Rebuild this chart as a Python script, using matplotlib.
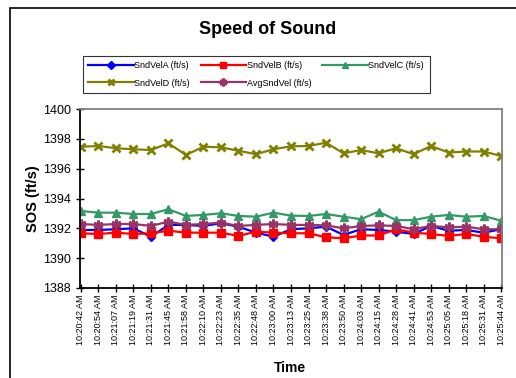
import matplotlib
matplotlib.use("Agg")
import matplotlib.pyplot as plt
from matplotlib.lines import Line2D

plt.rcParams["font.family"] = ["Liberation Sans", "DejaVu Sans"]

times = [
    "10:20:42 AM", "10:20:54 AM", "10:21:07 AM", "10:21:19 AM", "10:21:31 AM",
    "10:21:45 AM", "10:21:58 AM", "10:22:10 AM", "10:22:23 AM", "10:22:35 AM",
    "10:22:48 AM", "10:23:00 AM", "10:23:13 AM", "10:23:25 AM", "10:23:38 AM",
    "10:23:50 AM", "10:24:03 AM", "10:24:15 AM", "10:24:28 AM", "10:24:41 AM",
    "10:24:53 AM", "10:25:05 AM", "10:25:18 AM", "10:25:31 AM", "10:25:44 AM",
]

snd_a = [1391.89, 1391.89, 1391.94, 1392.00, 1391.44, 1392.23, 1392.23, 1392.16,
         1392.34, 1392.11, 1391.71, 1391.44, 1391.94, 1392.00, 1392.11, 1391.56,
         1391.94, 1391.89, 1391.78, 1391.62, 1392.16, 1391.84, 1391.89, 1391.71,
         1391.94]
snd_b = [1391.67, 1391.62, 1391.71, 1391.62, 1391.67, 1391.84, 1391.71, 1391.71,
         1391.71, 1391.49, 1391.78, 1391.71, 1391.67, 1391.67, 1391.40, 1391.33,
         1391.52, 1391.52, 1391.94, 1391.71, 1391.62, 1391.49, 1391.62, 1391.44,
         1391.33]
snd_c = [1393.16, 1393.05, 1393.05, 1392.96, 1392.96, 1393.28, 1392.83, 1392.90,
         1393.01, 1392.83, 1392.78, 1393.05, 1392.85, 1392.83, 1392.96, 1392.78,
         1392.61, 1393.12, 1392.55, 1392.55, 1392.78, 1392.90, 1392.78, 1392.83,
         1392.51]
snd_d = [1397.47, 1397.52, 1397.37, 1397.30, 1397.25, 1397.70, 1396.92, 1397.47,
         1397.43, 1397.20, 1396.97, 1397.30, 1397.50, 1397.52, 1397.74, 1397.03,
         1397.25, 1397.03, 1397.37, 1396.97, 1397.52, 1397.08, 1397.15, 1397.15,
         1396.85]
snd_avg = [1392.29, 1392.23, 1392.29, 1392.29, 1392.16, 1392.45, 1392.23, 1392.29,
           1392.38, 1392.16, 1392.23, 1392.29, 1392.23, 1392.23, 1392.20, 1392.00,
           1392.16, 1392.20, 1392.16, 1391.94, 1392.16, 1392.07, 1392.11, 1391.94,
           1391.94]

series = [
    ("SndVelA (ft/s)", snd_a, "#0000FF", "D", 4.5, 1),
    ("SndVelB (ft/s)", snd_b, "#FF0000", "s", 6, 1),
    ("SndVelC (ft/s)", snd_c, "#339966", "^", 6, 1),
    ("SndVelD (ft/s)", snd_d, "#808000", "x", 6, 2),
    ("AvgSndVel (ft/s)", snd_avg, "#993366", (6, 2, 0), 7, 2),
]

fig = plt.figure(figsize=(5.16, 3.78), dpi=100)
ax = fig.add_axes([80 / 516, 1 - 288 / 378, 422 / 516, 179 / 378])

# outer chart frame (right/bottom edges fall off the image)
frame = plt.Rectangle((10 / 516, -0.1), 1.2, 1 - 8 / 378 + 0.1, transform=fig.transFigure,
                      fill=False, edgecolor="black", linewidth=1.2)
fig.patches.append(frame)

x = list(range(len(times)))
handles = []
for label, vals, color, marker, ms, mew in series:
    ax.plot(x, vals, color=color, linewidth=1.6, marker=marker, markersize=ms,
            markeredgewidth=mew, markeredgecolor=color, markerfacecolor=color)
    handles.append(Line2D([], [], color=color, linewidth=1.6, marker=marker,
                          markersize=ms * 0.8, markeredgewidth=mew,
                          markeredgecolor=color, markerfacecolor=color, label=label))

# legend fills column by column, reorder so rows read A B C / D Avg
blank = Line2D([], [], linestyle="none", label=" ")
leg_handles = [handles[0], handles[3], handles[1], handles[4], handles[2], blank]

ax.set_xlim(-0.05, len(times) - 0.95)
ax.set_ylim(1388, 1400)
ax.set_yticks(range(1388, 1401, 2))
ax.set_xticks(x)
ax.set_xticklabels(times, rotation=90, fontsize=6.5)
ax.tick_params(axis="y", labelsize=9, direction="inout", length=6, width=1)
ax.tick_params(axis="x", direction="inout", length=6, width=1, pad=2)

for side in ("left", "bottom"):
    ax.spines[side].set_linewidth(1.3)
    ax.spines[side].set_color("black")
for side in ("top", "right"):
    ax.spines[side].set_linewidth(1.3)
    ax.spines[side].set_color("#808080")

ax.set_ylabel("SOS (ft/s)", fontsize=10.5, fontweight="bold", labelpad=2)
fig.text(290 / 516, 1 - 368 / 378, "Time", fontsize=10, fontweight="bold",
         ha="center", va="center")
fig.text(268 / 516, 1 - 30 / 378, "Speed of Sound", fontsize=13, fontweight="bold",
         ha="center", va="center")

leg = fig.legend(handles=leg_handles, ncol=3, loc="upper left",
                 bbox_to_anchor=(83 / 516, 1 - 56 / 378), fontsize=6.5,
                 frameon=True, fancybox=False, edgecolor="black",
                 handlelength=5.0, columnspacing=1.2, handletextpad=0.1,
                 borderpad=0.6, labelspacing=0.9, borderaxespad=0)
leg.get_frame().set_linewidth(0.8)

fig.savefig("out.png", dpi=100)
